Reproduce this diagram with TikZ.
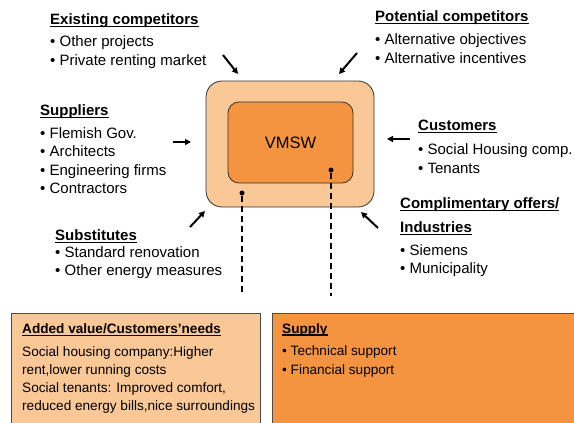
\documentclass[tikz,border=0pt]{standalone}
\usepackage{fontspec}
\setmainfont{Liberation Sans}
\usetikzlibrary{arrows.meta}
\definecolor{lightor}{RGB}{250,200,150}
\definecolor{darkor}{RGB}{245,148,64}
\newcommand\myul[1]{\setbox0\hbox{#1}\rlap{\rule[-2.6pt]{\wd0}{1.2pt}}\box0}
\tikzset{
  txt/.style={inner sep=0pt, anchor=west, align=left, font=\fontsize{15}{18.3}\selectfont},
  head/.style={inner sep=0pt, anchor=west, font=\fontsize{15}{16}\selectfont\bfseries},
  btxt/.style={inner sep=0pt, anchor=west, align=left, font=\fontsize{13.6}{18.3}\selectfont},
  bhead/.style={inner sep=0pt, anchor=west, font=\fontsize{13.6}{16}\selectfont\bfseries},
  force/.style={line width=2pt, -{Triangle[length=6pt,width=6pt]}},
  dashline/.style={line width=1.2pt, dash pattern=on 6pt off 4pt},
  dotmark/.style={circle, fill=black, inner sep=0pt, minimum size=5pt}
}
\begin{document}
\begin{tikzpicture}[x=1pt,y=-1pt]
\useasboundingbox (0,0) rectangle (574,423);
\clip (0,0) rectangle (574,423);
% central boxes
\node[draw=black!80, fill=lightor, rounded corners=16pt, line width=0.8pt, minimum width=168pt, minimum height=126pt, inner sep=0pt] (outer) at (290,144) {};
\node[draw=black!80, fill=darkor, rounded corners=11pt, line width=0.8pt, minimum width=125pt, minimum height=81pt, inner sep=0pt, font=\fontsize{16.5}{18}\selectfont] (vmsw) at (290.5,142.5) {VMSW};
% dots and dashed lines
\node[dotmark] (d1) at (242,193) {};
\node[dotmark] (d2) at (331,170) {};
\coordinate (e1) at (242,293);
\coordinate (e2) at (331,296);
\draw[dashline] (d1) -- (e1);
\draw[dashline] (d2) -- (e2);
% Existing competitors
\node[head] (h1) at (50,20.5) {\myul{Existing competitors}};
\node[txt] (l1) at (50,52) {• Other projects\\• Private renting market};
% Potential competitors
\node[head] (h2) at (375,17.5) {\myul{Potential competitors}};
\node[txt] (l2) at (375,48.5) {• Alternative objectives\\• Alternative incentives};
% Suppliers
\node[head] (h3) at (40,111.5) {\myul{Suppliers}};
\node[txt] (l3) at (40,160.5) {• Flemish Gov.\\• Architects\\• Engineering firms\\• Contractors};
% Substitutes
\node[head] (h4) at (55,236.5) {\myul{Substitutes}};
\node[txt] (l4) at (55,262.5) {• Standard renovation\\• Other energy measures};
% Customers
\node[head] (h5) at (418,126.5) {\myul{Customers}};
\node[txt] (l5) at (418,158.5) {• Social Housing comp.\\• Tenants};
% Complimentary
\node[head] (h6) at (400,204.5) {\myul{Complimentary offers/}};
\node[head] (h6b) at (400,228.5) {\myul{Industries}};
\node[txt] (l6) at (400,260.5) {• Siemens\\• Municipality};
% arrows
\coordinate (a1s) at (223,55); \coordinate (a1e) at (238,74);
\coordinate (a2s) at (357,53); \coordinate (a2e) at (339,74);
\coordinate (a3s) at (173,142); \coordinate (a3e) at (191,142);
\coordinate (a4s) at (410,139); \coordinate (a4e) at (387,139);
\coordinate (a5s) at (190,227); \coordinate (a5e) at (205,211);
\coordinate (a6s) at (378,228); \coordinate (a6e) at (361,212);
\draw[force] (a1s) -- (a1e);
\draw[force] (a2s) -- (a2e);
\draw[force] (a3s) -- (a3e);
\draw[force] (a4s) -- (a4e);
\draw[force] (a5s) -- (a5e);
\draw[force] (a6s) -- (a6e);
% bottom boxes
\draw[draw=black!70, fill=lightor, line width=0.8pt] (11,313) rectangle (260,440);
\draw[draw=black!70, fill=darkor, line width=0.8pt] (272,313) rectangle (590,440);
\node[bhead] (h7) at (22,329.5) {\myul{Added value/Customers’needs}};
\node[btxt] (l7) at (22,380) {Social housing company:Higher\\rent,lower running costs\\Social tenants: Improved comfort,\\reduced energy bills,nice surroundings};
\node[bhead] (h8) at (282,329.5) {\myul{Supply}};
\node[btxt] (l8) at (282,361.5) {• Technical support\\• Financial support};
\end{tikzpicture}
\end{document}
